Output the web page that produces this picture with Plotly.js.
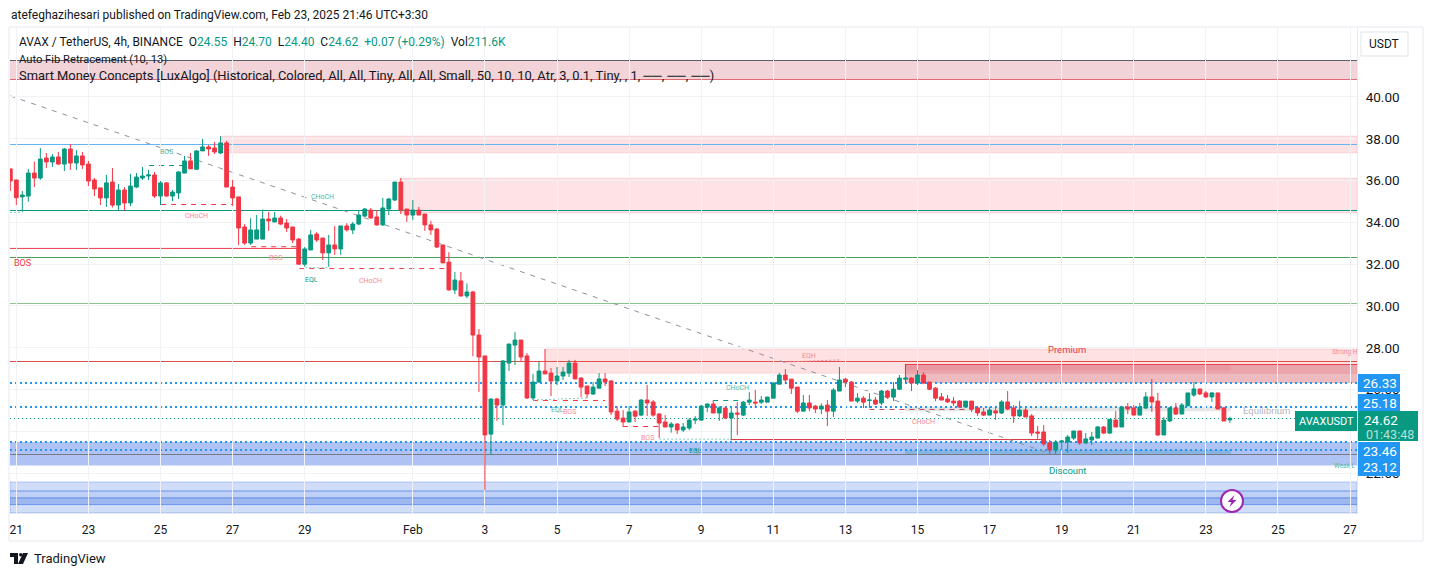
<!DOCTYPE html>
<html>
<head>
<meta charset="utf-8">
<script src="https://cdn.plot.ly/plotly-3.0.1.min.js"></script>
<style>html,body{margin:0;padding:0;background:#fff}#chart{width:1433px;height:576px}</style>
</head>
<body>
<div id="chart"></div>
<script>
// 4h candles AVAX/USDT, first bar 20 Jan 2025 20:00
const opens = [
36.56,36.03,35.22,35.26,36.36,36.12,37.08,36.89,37.13,36.79,
37.51,36.84,37.18,36.79,36.03,35.65,35.17,35.93,34.83,35.55,
34.93,35.69,36.12,36.22,36.27,35.26,35.89,35.26,35.41,36.36,
36.94,36.54,37.42,37.61,37.56,37.32,37.80,35.69,35.22,33.78,
33.01,33.20,33.20,34.16,34.02,34.21,33.97,33.78,33.20,32.00,
32.68,33.44,33.25,32.54,32.92,32.73,33.83,33.64,33.92,34.30,
34.59,34.26,33.88,34.64,35.07,35.93,34.64,34.35,34.59,34.40,
33.88,33.68,32.92,32.10,30.77,31.20,30.48,30.67,28.61,27.61,
23.87,25.55,25.26,27.27,28.13,28.37,27.61,25.60,26.36,26.89,
26.79,26.41,26.65,26.79,27.27,26.55,26.17,25.79,26.07,26.51,
26.41,24.97,24.64,24.45,24.97,24.78,25.50,25.41,24.83,24.45,
24.21,24.35,24.07,24.16,24.54,24.54,25.16,25.31,24.88,25.12,
24.64,24.88,24.78,25.40,25.40,25.40,25.40,25.59,26.26,26.70,
26.50,26.12,24.97,25.36,25.21,25.07,25.26,24.97,25.93,26.50,
26.36,25.45,25.59,25.48,25.50,25.36,25.93,25.64,26.02,26.50,
26.55,26.31,26.70,26.36,26.07,25.65,25.55,25.45,25.45,25.17,
25.45,25.12,24.93,24.78,24.98,24.88,25.41,25.12,24.74,25.02,
24.74,23.97,23.97,23.45,23.11,23.49,23.49,23.68,24.02,23.45,
23.59,23.68,24.21,23.92,24.54,24.21,25.17,25.12,24.78,25.12,
25.65,25.45,23.83,24.50,25.12,24.83,25.22,25.74,26.03,25.84,
25.65,25.84,25.12,24.55];
const highs = [
36.56,36.03,35.50,36.56,36.91,37.56,37.32,37.27,37.37,37.56,
37.75,37.46,37.37,36.94,36.12,35.65,36.27,36.60,35.84,35.69,
36.32,36.36,36.65,36.51,36.41,35.98,35.93,35.55,36.46,37.18,
37.32,37.46,37.99,37.70,37.85,38.13,37.90,36.03,35.22,33.92,
34.20,34.35,34.62,34.50,34.50,34.32,34.16,33.78,33.25,32.82,
33.64,33.54,33.25,33.40,33.83,33.83,33.96,34.02,34.59,34.69,
34.69,34.59,35.17,35.17,35.93,36.12,34.64,35.07,34.74,34.40,
34.07,33.73,32.92,32.57,31.63,31.63,31.08,30.73,28.90,27.61,
25.58,25.60,27.42,28.18,28.75,28.37,27.75,26.75,27.32,27.94,
27.03,27.08,27.08,27.42,27.42,26.60,26.17,26.36,26.79,26.79,
26.46,25.21,25.02,25.21,25.02,25.55,26.22,25.50,24.88,24.78,
24.45,24.40,24.40,24.64,24.73,25.26,25.34,25.50,25.21,25.12,
25.12,25.40,25.45,25.88,25.98,25.69,25.66,26.36,26.79,26.98,
26.50,26.12,25.74,25.74,25.26,25.34,25.50,26.07,27.08,26.55,
26.41,25.83,25.69,25.83,25.64,25.98,25.98,26.36,26.70,27.22,
26.60,26.93,26.84,26.36,26.12,25.84,25.74,25.65,25.50,25.45,
25.45,25.22,25.12,25.17,25.22,25.50,25.93,25.26,25.45,25.12,
24.83,24.26,24.31,23.59,23.59,23.59,23.83,24.02,24.02,23.92,
23.97,24.26,24.26,24.59,24.97,25.22,25.36,25.26,25.36,25.88,
26.51,25.84,24.69,25.17,25.36,25.36,25.84,26.36,26.03,25.93,
25.88,25.84,25.17,24.70];
const lows = [
35.50,34.83,34.51,34.99,35.69,36.04,36.60,36.65,36.75,36.46,
36.51,36.51,36.56,35.74,35.26,34.83,34.74,34.71,34.59,34.56,
34.78,35.65,36.03,36.03,35.17,34.83,35.23,35.02,35.12,36.35,
36.56,36.51,37.42,37.18,37.27,37.27,35.69,34.79,32.92,32.92,
32.92,33.20,33.20,33.59,34.02,33.87,33.54,33.01,32.00,31.88,
32.68,33.06,32.20,31.88,32.44,32.44,33.56,33.44,33.87,34.26,
34.18,33.83,33.83,34.35,35.02,34.40,34.02,34.11,34.35,33.59,
33.40,32.77,32.06,30.73,30.57,30.45,30.37,27.60,25.88,21.20,
22.87,24.50,24.30,26.89,27.18,27.37,25.55,25.50,26.33,26.75,
25.69,26.22,26.46,26.60,26.51,25.64,25.60,25.74,26.07,26.17,
24.78,24.50,24.21,24.45,24.45,24.73,24.73,24.70,23.68,24.21,
23.94,23.87,23.97,24.06,24.35,24.50,24.92,24.88,24.50,24.59,
23.58,23.82,24.73,25.26,25.12,25.31,25.40,25.59,26.26,26.26,
25.79,24.88,24.97,24.97,24.88,24.83,24.26,24.69,25.93,26.12,
25.45,25.36,25.12,25.12,25.26,25.26,25.55,25.45,25.98,26.31,
25.93,26.22,26.26,25.98,25.45,25.50,25.36,25.22,25.12,25.17,
24.93,24.74,24.74,24.78,24.55,24.83,25.02,24.40,24.69,24.69,
23.78,23.64,23.30,22.92,22.92,23.11,22.97,23.59,23.35,23.40,
23.35,23.68,23.87,23.87,24.21,24.21,24.83,24.78,24.78,25.07,
24.93,23.78,23.83,24.45,24.78,24.83,25.22,25.65,25.74,25.60,
25.41,25.07,24.50,24.40];
const closes = [
35.98,35.18,35.31,36.36,36.12,37.03,36.89,37.13,36.79,37.51,
36.84,37.18,36.75,35.98,35.60,35.17,35.89,34.83,35.55,34.93,
35.74,36.17,36.22,36.27,35.26,35.89,35.26,35.45,36.41,36.94,
36.56,37.42,37.61,37.51,37.37,37.80,35.69,35.17,33.73,33.01,
33.64,33.64,34.16,34.07,34.21,33.92,33.73,33.16,32.00,32.73,
33.40,33.16,32.54,32.92,32.73,33.83,33.64,33.92,34.35,34.64,
34.21,33.88,34.69,35.12,35.93,34.59,34.35,34.59,34.35,33.88,
33.64,32.82,32.06,30.77,31.24,30.48,30.67,28.61,27.56,23.83,
25.55,25.26,27.37,28.18,28.37,27.56,25.60,26.36,26.89,26.75,
26.41,26.65,26.84,27.27,26.51,26.12,25.79,26.12,26.51,26.36,
24.93,24.59,24.45,24.93,24.73,25.50,25.36,24.78,24.40,24.21,
24.35,24.07,24.21,24.54,24.59,25.21,25.31,24.88,25.12,24.64,
24.88,24.83,25.40,25.50,25.36,25.50,25.64,26.31,26.70,26.46,
26.07,24.97,25.36,25.12,25.07,25.21,24.97,25.98,26.46,26.36,
25.45,25.59,25.40,25.50,25.31,25.93,25.64,26.02,26.55,26.55,
26.31,26.70,26.31,26.02,25.59,25.50,25.41,25.36,25.17,25.45,
25.07,24.88,24.78,25.02,24.88,25.41,25.07,24.74,25.02,24.69,
23.92,23.92,23.40,23.11,23.49,23.54,23.73,24.02,23.45,23.64,
23.73,24.21,23.92,24.58,24.21,25.17,25.07,24.78,25.17,25.65,
25.41,23.83,24.54,25.12,24.83,25.26,25.84,26.03,25.79,25.65,
25.84,25.07,24.50,24.62];

const tickBars   = [1,13,25,37,49,67,79,91,103,115,127,139,151,163,175,187,199,211,223];
const tickLabels = ['21','23','25','27','29','Feb','3','5','7','9','11','13','15','17','19','21','23','25','27'];
const priceTicks = [22,24,26,28,30,32,34,36,38,40];

// zones: bar span, price span
const zoneBars   = [[-0.05,224.15],[35.2,224.15],[64.9,224.15],[89,224.15],[148.9,224.15],[148.9,203.2],[148.9,203.2],[148.9,203.2],
                    [-0.05,224.15],[-0.05,224.15],[-0.05,224.15],[-0.05,224.15],[-0.05,224.15]];
const zoneTops   = [41.745,38.13,36.12,27.94,27.2,27.16,25.17,23.11,23.49,21.58,21.15,20.82,20.50];
const zoneBottoms= [40.836,37.32,34.45,26.78,26.32,26.92,24.97,22.92,22.37,21.15,20.82,20.50,20.10];
const zoneFills  = ['rgba(200,70,85,.23)','rgba(242,54,69,.15)','rgba(242,54,69,.14)','rgba(242,54,69,.15)','rgba(200,40,55,.32)','rgba(200,40,55,.10)','rgba(120,123,134,.2)','rgba(0,150,136,.25)',
                    'rgba(41,98,224,.38)','rgba(41,98,224,.22)','rgba(41,98,224,.30)','rgba(41,98,224,.46)','rgba(41,98,224,.22)'];
const zoneEdges  = ['rgba(0,0,0,0)','rgba(242,54,69,.12)','rgba(242,54,69,.12)','rgba(242,54,69,.12)','rgba(0,0,0,0)','rgba(0,0,0,0)','rgba(0,0,0,0)','rgba(0,0,0,0)',
                    'rgba(0,0,0,0)','rgba(41,98,224,.3)','rgba(41,98,224,.3)','rgba(41,98,224,.3)','rgba(41,98,224,.3)'];

// horizontal levels and structure lines: bar span, price at each end
const lineBars   = [[-0.05,224.15],[-0.05,224.15],[-0.05,224.15],[-0.05,47.9],[-0.05,224.15],[-0.05,224.15],[-0.05,224.15],[148.9,224.15],
                    [-0.05,224.15],[-0.05,224.15],[-0.05,224.15],[-0.05,224.15],[-0.05,224.15],[-0.05,224.15],[-0.05,224.15],
                    [23.1,29.1],[25.1,36.9],[42.1,59],[40.1,47.9],[48.1,72.7],[87,99],[102,108.1],[117,122],[143,160.2],[119.9,171.7],
                    [-0.05,1.9],[49.1,52.9],[87,96],[108,119.9],[129,138],[0,172.7]];
const linePrices = [[41.745,41.745],[40.836,40.836],[37.726,37.726],[32.755,32.755],[34.569,34.569],[32.32,32.32],[30.119,30.119],[27.2,27.2],
                    [27.344,27.344],[26.32,26.32],[25.17,25.17],[24.615,24.615],[23.49,23.49],[23.11,23.11],[22.895,22.895],
                    [36.72,36.72],[34.856,34.856],[34.569,34.569],[32.835,32.835],[31.79,31.79],[25.48,25.48],[24.235,24.235],[25.48,25.48],[25.05,25.05],[23.61,23.61],
                    [34.48,34.48],[31.83,31.83],[25.50,25.60],[23.63,23.63],[27.32,27.42],[40.05,22.97]];
const lineColors = ['#5d606b','#e06a75','#64b5f6','#f23645','#089981','#4c9f57','#8ac48f','#e8414d',
                    '#df4f4a','#2196f3','#2196f3','#089981','#2196f3','#2196f3','#787b86',
                    '#089981','#f23645','#089981','#f23645','#f23645','#f23645','#f23645','#089981','#c8414c','#d8323f',
                    '#7fcfbf','#7fcfbf','#7fcfbf','#7fcfbf','#f58a95','#8f929c'];
const lineDashes = ['solid','solid','solid','solid','solid','solid','solid','solid',
                    'solid','2px 3px','2px 3px','1px 3px','2px 3px','2px 3px','solid',
                    '5px 5px','5px 5px','5px 5px','5px 5px','5px 5px','5px 5px','5px 5px','5px 5px','5px 5px','solid',
                    '2px 2px','2px 2px','2px 2px','2px 2px','2px 2px','5px 6px'];
const lineWidths = [1,1,1,1,1,1,1,1,1,2,2,1,2,2,1,1,1,1,1,1,1,1,1,1,1,1,1,1,1,1,1];

// structure labels and their page positions
const tagTexts = ['BOS','CHoCH','CHoCH','BOS','EQL','CHoCH','BOS','EQL','BOS','BOS','CHoCH','EQL','EQH','CHoCH'];
const tagX     = [166,196,322,275,311,370,22,557,569,647,737,695,809,923];
const tagY     = [152,216,197,258,280,281,263,410,412,438,388,451,356,422];
const tagColors= ['#4dbba6','#f58a95','#4dbba6','#f58a95','#089981','#f58a95','#f23645','#4dbba6','#f58a95','#f58a95','#4dbba6','#089981','#f58a95','#f58a95'];
const tagSizes = [7,7,7,7,7,7,9,7,7,7,7,7,7,7];

const green='#089981', red='#f23645', blue='#2196f3';
const BASE=Date.UTC(2025,0,20,20);
const stamp=i=>new Date(BASE+i*14400000).toISOString().slice(0,19).replace('T',' ');
const L=10,R=1357,T=28,B=513;
const fx=p=>(p-L)/(R-L), fy=p=>1-(p-T)/(B-T);
const font='Roboto, "Noto Sans", sans-serif';

const shapes=[];
zoneBars.forEach((b,i)=>shapes.push({type:'rect',layer:'below',xref:'x',yref:'y',x0:stamp(b[0]),x1:stamp(b[1]),y0:zoneBottoms[i],y1:zoneTops[i],
  fillcolor:zoneFills[i],line:{color:zoneEdges[i],width:1}}));
lineBars.forEach((b,i)=>shapes.push({type:'line',layer:'below',xref:'x',yref:'y',x0:stamp(b[0]),x1:stamp(b[1]),y0:linePrices[i][0],y1:linePrices[i][1],
  line:{color:lineColors[i],width:lineWidths[i],dash:lineDashes[i]}}));
// frame and furniture
const pageRect=(x0,y0,x1,y1,fill,edge,w)=>({type:'rect',xref:'paper',yref:'paper',x0:fx(x0),x1:fx(x1),y0:fy(y0),y1:fy(y1),fillcolor:fill,line:{color:edge,width:w||0}});
shapes.push(pageRect(9,27,1423,541,'rgba(0,0,0,0)','#e6e8ee',1));
shapes.push(pageRect(1361,32,1408,56,'#fff','#e0e3eb',1));
shapes.push(pageRect(1358,374,1400,392,blue,blue));
shapes.push(pageRect(1358,394,1400,412,blue,blue));
shapes.push(pageRect(1295,411,1357,431,green,green));
shapes.push(pageRect(1358,411,1418,441,green,green));
shapes.push(pageRect(1358,442,1400,460,blue,blue));
shapes.push(pageRect(1358,459,1400,476,blue,blue));
// lightning badge
shapes.push({type:'circle',xref:'paper',yref:'paper',x0:fx(1221),x1:fx(1243),y0:fy(490),y1:fy(512),fillcolor:'#fff',line:{color:'#9c27b0',width:2}});
const pagePath=pts=>'M'+pts.map(p=>fx(p[0])+','+fy(p[1])).join('L')+'Z';
shapes.push({type:'path',xref:'paper',yref:'paper',path:pagePath([[1234.5,495],[1227.5,502],[1231.5,502],[1229.5,507],[1236.5,500],[1232.5,500]]),fillcolor:'#9c27b0',line:{width:0}});
// TradingView mark
shapes.push({type:'path',xref:'paper',yref:'paper',path:pagePath([[10,553],[18,553],[18,564],[14,564],[14,557],[10,557]]),fillcolor:'#131722',line:{width:0}});
shapes.push({type:'circle',xref:'paper',yref:'paper',x0:fx(19),x1:fx(22.5),y0:fy(553),y1:fy(556.5),fillcolor:'#131722',line:{width:0}});
shapes.push({type:'path',xref:'paper',yref:'paper',path:pagePath([[23,553],[28,553],[23,564],[18,564]]),fillcolor:'#131722',line:{width:0}});

const note=(text,x,y,size,color,extra)=>Object.assign({text,xref:'paper',yref:'paper',x:fx(x),y:fy(y),xanchor:'center',yanchor:'middle',
  showarrow:false,font:{family:font,size,color},borderpad:0,align:'center'},extra||{});
const left={xanchor:'left'};
const nb='\u00a0\u00a0';
const g=s=>`<span style="color:${green}">${s}</span>`;
const annotations=[
  note('atefeghazihesari published on TradingView.com, Feb 23, 2025 21:46 UTC+3:30',10,15,12,'#131722',left),
  note('AVAX / TetherUS, 4h, BINANCE'+nb+'O'+g('24.55')+nb+'H'+g('24.70')+nb+'L'+g('24.40')+nb+'C'+g('24.62')+nb+g('+0.07 (+0.29%)')+nb+'Vol'+g('211.6K'),18,42,12,'#131722',left),
  note('Auto Fib Retracement (10, 13)',18,59,11.2,'#131722',left),
  note('Smart Money Concepts [LuxAlgo] (Historical, Colored, All, All, Tiny, All, All, Small, 50, 10, 10, Atr, 3, 0.1, Tiny, , 1, ──, ──, ──)',18,75,12.9,'#131722',left),
  note('USDT',1384,44,12,'#131722'),
  note('26.33',1380,383,13.5,'#fff'),
  note('25.18',1380,403,13.5,'#fff'),
  note('23.46',1380,451,13.5,'#fff'),
  note('23.12',1380,467,13.5,'#fff'),
  note('AVAXUSDT',1326,421,11,'#fff'),
  note('24.62',1381,420,13.5,'#fff'),
  note('01:43:48',1390,434,12.5,'rgba(255,255,255,.72)'),
  note('Premium',1067,349,9.5,'#f23645'),
  note('Discount',1067,470,9.5,green),
  note('Equilibrium',1266,410,9.5,'#b2b5be'),
  note('Strong H',1345,352,6.5,'#f58a95'),
  note('Weak L',1345,466,6.5,'#4dbba6'),
  note('TradingView',33,558,13,'#131722',left)
];
tagTexts.forEach((t,i)=>annotations.push(note(t,tagX[i],tagY[i],tagSizes[i],tagColors[i])));

const trace={type:'candlestick',x:opens.map((_,i)=>stamp(i)),open:opens,high:highs,low:lows,close:closes,
  increasing:{line:{color:green,width:1},fillcolor:green},
  decreasing:{line:{color:red,width:1},fillcolor:red},
  whiskerwidth:0,showlegend:false,hoverinfo:'skip'};

const layout={width:1433,height:576,margin:{l:L,r:1433-R,t:T,b:576-B,pad:0},
  paper_bgcolor:'#fff',plot_bgcolor:'#fff',showlegend:false,boxgap:0.1,
  font:{family:font,size:12,color:'#131722'},
  xaxis:{type:'date',range:[stamp(-0.05),stamp(224.15)],rangeslider:{visible:false},
    tickmode:'array',tickvals:tickBars.map(stamp),ticktext:tickLabels,ticks:'',ticklabelstandoff:6,
    tickfont:{family:font,size:12,color:'#131722'},showgrid:true,gridcolor:'#f1f2f5',gridwidth:1,zeroline:false,
    showline:true,linecolor:'#e6e8ee',linewidth:1},
  yaxis:{side:'right',range:[20.096,43.30],tickmode:'array',tickvals:priceTicks,ticktext:priceTicks.map(v=>v.toFixed(2)),ticks:'',ticklabelstandoff:5,
    tickfont:{family:font,size:13.5,color:'#131722'},showgrid:true,gridcolor:'#f1f2f5',gridwidth:1,zeroline:false,
    showline:true,linecolor:'#e6e8ee',linewidth:1},
  shapes,annotations};
Plotly.newPlot('chart',[trace],layout,{displayModeBar:false,staticPlot:true});
</script>
</body>
</html>
